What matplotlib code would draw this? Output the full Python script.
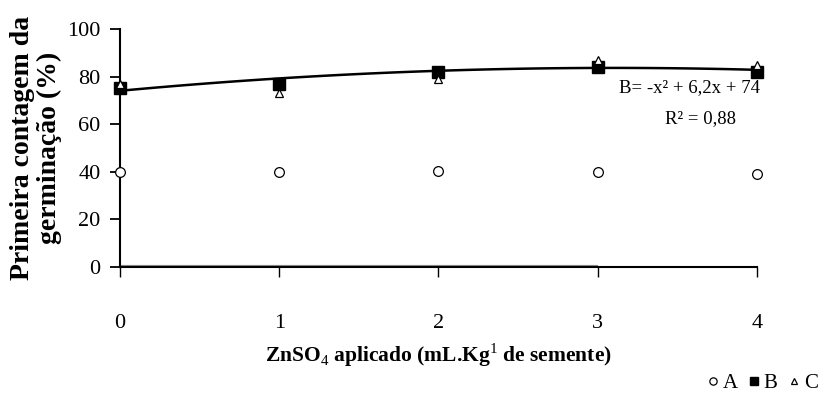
import matplotlib; matplotlib.use('Agg')
import matplotlib.pyplot as plt, numpy as np

plt.rcParams.update({'figure.dpi': 100, 'mathtext.fontset': 'custom',
                     'mathtext.rm': 'Liberation Serif', 'mathtext.bf': 'Liberation Serif:bold'})

# ZnSO4 dose (mL/kg seed) and first germination count (%) per treatment
doses = [0, 1, 2, 3, 4]
germ_a = [40, 40, 40.5, 40, 39]
germ_b = [75, 77, 82, 84, 82]
germ_c = [77, 73, 79, 87, 85]

# quadratic fit for B: B = a*x^2 + b*x + c
fit_a, fit_b, fit_c = -1.0, 6.2, 74.0
r2_b = 0.88

serif = ['Liberation Serif', 'DejaVu Serif']

fig = plt.figure(figsize=(8.28, 3.96))
ax = fig.add_axes([0.145, 0.326, 0.769, 0.601])

ax.plot(doses, germ_a, 'o', ms=7, mfc='white', mec='black', mew=0.9, ls='none',
        label='A', zorder=4, clip_on=False)
ax.plot(doses, germ_b, 's', ms=8, mfc='black', mec='black', ls='none',
        label='B', zorder=4, clip_on=False)
ax.plot(doses, germ_c, '^', ms=6, mfc='white', mec='black', mew=0.9, ls='none',
        label='C', zorder=5, clip_on=False)

xs = np.linspace(doses[0], doses[-1], 100)
ax.plot(xs, fit_a * xs**2 + fit_b * xs + fit_c, color='black', lw=1.8, zorder=3)

# shaded baseline along zero
ax.hlines(0, doses[0], doses[3], color='#8c8c8c', lw=3, zorder=2)

ax.set_xlim(doses[0], doses[-1])
ax.set_ylim(0, 100)
ax.set_xticks(doses)
ax.set_yticks(range(0, 101, 20))
ax.spines[['top', 'right']].set_visible(False)
ax.spines['left'].set_linewidth(1.5)
ax.spines['bottom'].set_linewidth(1.5)
ax.tick_params(axis='x', length=7, width=1, pad=27, labelsize=16)
ax.tick_params(axis='y', length=7, width=1.3, pad=7, labelsize=16)
for lbl in ax.get_xticklabels() + ax.get_yticklabels():
    lbl.set_family(serif)

ax.set_ylabel('Primeira contagem da\ngerminação (%)', family=serif, fontweight='bold',
              fontsize=20, linespacing=1.1, labelpad=4)
ax.set_xlabel('ZnSO$_4$ aplicado (mL.Kg$^{1}$ de semente)', family=serif,
              fontweight='bold', fontsize=15.5, labelpad=6)

ax.text(4.02, 79, 'B= -x² + 6,2x + 74', ha='right', va='top', fontsize=13.5, family=serif)
ax.text(3.87, 66, 'R² = %s' % str(r2_b).replace('.', ','), ha='right', va='top',
        fontsize=13.5, family=serif)

fig.legend(loc='lower right', bbox_to_anchor=(1.01, -0.04), ncol=3, frameon=False,
           handletextpad=0.05, columnspacing=0.4, handlelength=0.8,
           prop={'family': serif, 'size': 15}, markerscale=0.75)

fig.savefig('out.png')
plt.close(fig)
